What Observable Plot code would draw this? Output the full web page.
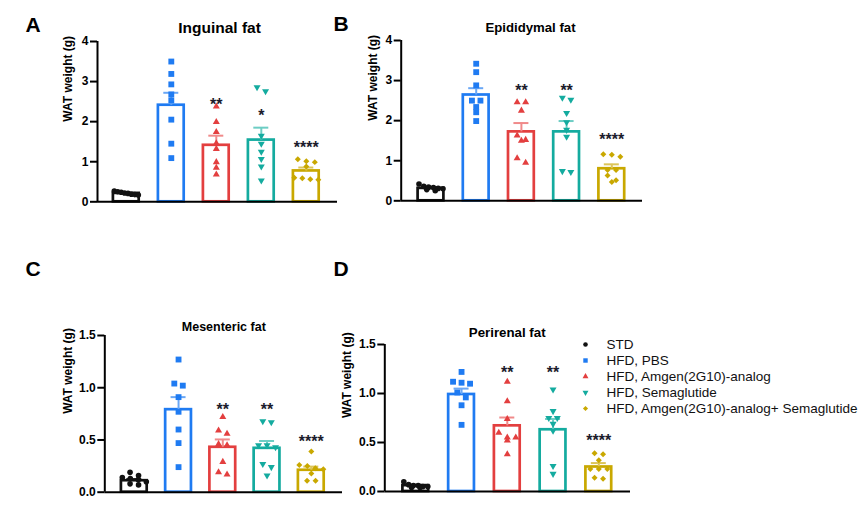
<!DOCTYPE html>
<html><head><meta charset="utf-8">
<script src="https://cdn.jsdelivr.net/npm/d3@7"></script>
<script src="https://cdn.jsdelivr.net/npm/@observablehq/plot@0.6"></script>
<style>
html,body{margin:0;padding:0;background:#fff;}
#fig{position:relative;width:864px;height:511px;overflow:hidden;background:#fff;}
#fig svg{position:absolute;left:0;top:0;}
#fig svg [aria-label="y-axis tick"] path,
#fig svg [aria-label="y-axis tick"] line,
#fig svg [aria-label="y-axis"] .tick line{stroke-width:2px;}
</style></head><body><div id="fig"></div>
<script>
// ---------- data ----------
const groups = ["STD", "HFD, PBS", "HFD, Amgen(2G10)-analog", "HFD, Semaglutide", "HFD, Amgen(2G10)-analog+ Semaglutide"];
const barColors = ["#111111", "#1f7bf2", "#e33f3f", "#14ab9f", "#c9a800"];
const errColors = ["#111111", "#6aa7f5", "#f08a8a", "#6dcdc4", "#dcc55a"];

const inguinalPoints = [
  [0.27, 0.25, 0.24, 0.22, 0.21, 0.19, 0.18, 0.17],
  [3.50, 3.19, 2.93, 2.68, 2.53, 2.05, 1.45, 1.09],
  [2.38, 1.99, 1.74, 1.46, 1.32, 0.99, 0.85, 0.68],
  [2.86, 2.76, 1.65, 1.45, 1.25, 1.07, 0.88, 0.53],
  [1.06, 1.01, 0.99, 0.88, 0.60, 0.59, 0.56, 0.55]
];
const inguinalMeans = [0.21, 2.41, 1.41, 1.54, 0.77];
const inguinalSEM = [0.013, 0.31, 0.24, 0.31, 0.085];
const inguinalStars = ["", "", "**", "*", "****"];
const inguinalStarY = [null, null, 2.53, 2.24, 1.45];

const epididymalPoints = [
  [0.42, 0.36, 0.34, 0.33, 0.31, 0.30, 0.28, 0.25],
  [3.42, 3.21, 2.88, 2.50, 2.50, 2.34, 2.21, 1.99],
  [2.46, 2.46, 2.25, 1.63, 1.52, 1.50, 1.06, 0.95],
  [2.57, 2.52, 2.19, 1.96, 1.77, 1.60, 0.74, 0.72],
  [1.16, 1.15, 1.10, 0.77, 0.77, 0.63, 0.51, 0.47]
];
const epididymalMeans = [0.31, 2.64, 1.72, 1.72, 0.80];
const epididymalSEM = [0.02, 0.17, 0.22, 0.27, 0.11];
const epididymalStars = ["", "", "**", "**", "****"];
const epididymalStarY = [null, null, 2.84, 2.84, 1.63];

const mesentericPoints = [
  [0.19, 0.16, 0.14, 0.13, 0.12, 0.10, 0.08, 0.07],
  [1.27, 1.04, 1.02, 0.91, 0.77, 0.60, 0.47, 0.24],
  [0.72, 0.59, 0.56, 0.46, 0.45, 0.29, 0.19, 0.17],
  [0.68, 0.67, 0.45, 0.45, 0.43, 0.27, 0.24, 0.16],
  [0.39, 0.26, 0.25, 0.23, 0.22, 0.18, 0.11, 0.11]
];
const mesentericMeans = [0.11, 0.79, 0.43, 0.42, 0.21];
const mesentericSEM = [0.015, 0.12, 0.075, 0.07, 0.035];
const mesentericStars = ["", "", "**", "**", "****"];
const mesentericStarY = [null, null, 0.83, 0.83, 0.52];

const perirenalPoints = [
  [0.10, 0.07, 0.06, 0.06, 0.05, 0.05, 0.04, 0.04],
  [1.22, 1.12, 1.11, 1.10, 1.01, 0.96, 0.88, 0.68],
  [1.12, 0.92, 0.74, 0.60, 0.55, 0.55, 0.52, 0.38],
  [1.04, 0.82, 0.75, 0.75, 0.69, 0.62, 0.26, 0.18],
  [0.39, 0.38, 0.32, 0.23, 0.23, 0.23, 0.14, 0.13]
];
const perirenalMeans = [0.06, 0.99, 0.67, 0.63, 0.25];
const perirenalSEM = [0.007, 0.06, 0.085, 0.11, 0.04];
const perirenalStars = ["", "", "**", "**", "****"];
const perirenalStarY = [null, null, 1.25, 1.25, 0.56];

const ticksAB = [0, 1, 2, 3, 4];
const ticksCD = [0, 0.5, 1.0, 1.5];
const yLabel = "WAT weight (g)";

// ---------- drawing ----------
const W = 864, H = 511;
const FONT = "'Liberation Sans', Arial, Helvetica, sans-serif";
const triDown = {draw(ctx, size) {
  const s3 = Math.sqrt(3), y = Math.sqrt(size / (s3 * 3));
  ctx.moveTo(0, 2 * y); ctx.lineTo(-s3 * y, -y); ctx.lineTo(s3 * y, -y); ctx.closePath();
}};
const symbols = [d3.symbolCircle, d3.symbolSquare, d3.symbolTriangle, triDown, d3.symbolDiamond2 || d3.symbolDiamond];
const radii = [2.8, 3.3, 2.6, 2.6, 2.7];
const legendRadii = [2.3, 2.5, 2.2, 2.2, 2.3];

function swarm(values, pxPerUnit) {
  const order = values.map((v, i) => i).sort((a, b) => values[b] - values[a]);
  const rows = [];
  for (const i of order) {
    const row = rows[rows.length - 1];
    if (row && (values[row[0]] - values[i]) * pxPerUnit < 5) row.push(i); else rows.push([i]);
  }
  const off = new Array(values.length).fill(0);
  for (const row of rows) {
    const n = row.length;
    const sp = n > 1 ? Math.min(8.5, 24 / (n - 1)) : 0;
    row.forEach((i, k) => off[i] = (k - (n - 1) / 2) * sp);
  }
  return off;
}

function panel(c) {
  const d0 = (c.axisX - c.firstBar) / c.spacing, d1 = (c.axisEnd - c.firstBar) / c.spacing;
  const pxPerUnit = (c.y0 - c.yTop) / c.ymax;
  const bars = c.means.map((m, i) => ({g: i, m, s: c.sems[i], star: c.stars[i], sy: c.starY[i]}));
  const half = 12.9 / c.spacing, cap = 7.5 / c.spacing;
  const dotMarks = c.points.map((vals, g) => {
    const off = swarm(vals, pxPerUnit);
    const rows = vals.map((v, k) => ({v, x: g + off[k] / c.spacing}));
    return Plot.dot(rows, {x: "x", y: "v", symbol: symbols[g], fill: barColors[g], r: radii[g], stroke: "none"});
  });
  return Plot.plot({
    width: W, height: H,
    marginLeft: c.axisX, marginRight: W - c.axisEnd, marginTop: c.yTop, marginBottom: H - c.y0,
    x: {domain: [d0, d1], axis: null},
    y: {domain: [0, c.ymax], ticks: c.ticks, tickFormat: c.fmt, tickSize: 7, tickPadding: 2, label: null},
    color: {type: "identity"},
    style: {background: "none", fontFamily: FONT, fontSize: "12px", fontWeight: "bold", color: "#000", overflow: "visible"},
    marks: [
      Plot.rect(bars, {x1: d => d.g - half, x2: d => d.g + half, y1: () => 0, y2: "m", fill: "white", stroke: d => barColors[d.g], strokeWidth: 2.7}),
      Plot.ruleX(bars, {x: "g", y1: "m", y2: d => d.m + d.s, stroke: d => errColors[d.g], strokeWidth: 2}),
      Plot.ruleY(bars, {y: d => d.m + d.s, x1: d => d.g - cap, x2: d => d.g + cap, stroke: d => errColors[d.g], strokeWidth: 2}),
      ...dotMarks,
      Plot.ruleY([0], {stroke: "#000", strokeWidth: 2}),
      Plot.ruleX([d0], {stroke: "#000", strokeWidth: 2}),
      Plot.text(bars.filter(d => d.star), {x: "g", y: "sy", text: "star", fontSize: 16, fill: "#1b1b2b", lineAnchor: "middle", dy: 4}),
      Plot.text([c.letter], {frameAnchor: "top-left", text: d => d, dx: c.letterX - c.axisX, dy: c.letterY - c.yTop, textAnchor: "start", lineAnchor: "bottom", fontSize: 21}),
      Plot.text([c.title], {frameAnchor: "top-left", text: d => d, dx: c.titleX - c.axisX, dy: c.titleY - c.yTop, textAnchor: "middle", lineAnchor: "bottom", fontSize: c.titleSize}),
      Plot.text([yLabel], {frameAnchor: "left", text: d => d, dx: c.labelX - c.axisX, rotate: -90, fontSize: 12})
    ]
  });
}

const fmtInt = d => String(d);
const fmt1 = d3.format(".1f");

const fig = document.getElementById("fig");
fig.append(panel({points: inguinalPoints, means: inguinalMeans, sems: inguinalSEM, stars: inguinalStars, starY: inguinalStarY,
  ymax: 4, ticks: ticksAB, fmt: fmtInt, axisX: 97, axisEnd: 337, firstBar: 125.8, spacing: 45, y0: 201.3, yTop: 41,
  letter: "A", letterX: 25, letterY: 31.7, title: "Inguinal fat", titleX: 219, titleY: 32.3, titleSize: 15.5, labelX: 68}));
fig.append(panel({points: epididymalPoints, means: epididymalMeans, sems: epididymalSEM, stars: epididymalStars, starY: epididymalStarY,
  ymax: 4, ticks: ticksAB, fmt: fmtInt, axisX: 400.7, axisEnd: 642, firstBar: 430.5, spacing: 45.2, y0: 200.3, yTop: 40,
  letter: "B", letterX: 333, letterY: 30.7, title: "Epididymal fat", titleX: 530, titleY: 31.7, titleSize: 13.2, labelX: 372.5}));
fig.append(panel({points: mesentericPoints, means: mesentericMeans, sems: mesentericSEM, stars: mesentericStars, starY: mesentericStarY,
  ymax: 1.5, ticks: ticksCD, fmt: fmt1, axisX: 104.3, axisEnd: 342, firstBar: 133.8, spacing: 44.25, y0: 491.7, yTop: 335,
  letter: "C", letterX: 25, letterY: 275, title: "Mesenteric fat", titleX: 223.3, titleY: 330, titleSize: 12.5, labelX: 67.5}));
fig.append(panel({points: perirenalPoints, means: perirenalMeans, sems: perirenalSEM, stars: perirenalStars, starY: perirenalStarY,
  ymax: 1.5, ticks: ticksCD, fmt: fmt1, axisX: 384.3, axisEnd: 630, firstBar: 415.3, spacing: 45.75, y0: 491, yTop: 344,
  letter: "D", letterX: 333, letterY: 275, title: "Perirenal fat", titleX: 506.7, titleY: 336.7, titleSize: 13.3, labelX: 346.7}));

// legend
fig.append(Plot.plot({
  width: W, height: H, margin: 0,
  x: {domain: [0, 1], range: [585, 606], axis: null},
  y: {type: "point", domain: groups, range: [335.7, 416.7], axis: null},
  style: {background: "none", fontFamily: FONT, fontSize: "13.5px", color: "#111", overflow: "visible"},
  marks: [
    ...groups.map((g, i) => Plot.dot([g], {x: () => 0, y: d => d, symbol: symbols[i], fill: barColors[i], r: legendRadii[i], stroke: "none"})),
    Plot.text(groups, {x: () => 1, y: d => d, text: d => d, textAnchor: "start", fill: "#111"})
  ]
}));
</script></body></html>
